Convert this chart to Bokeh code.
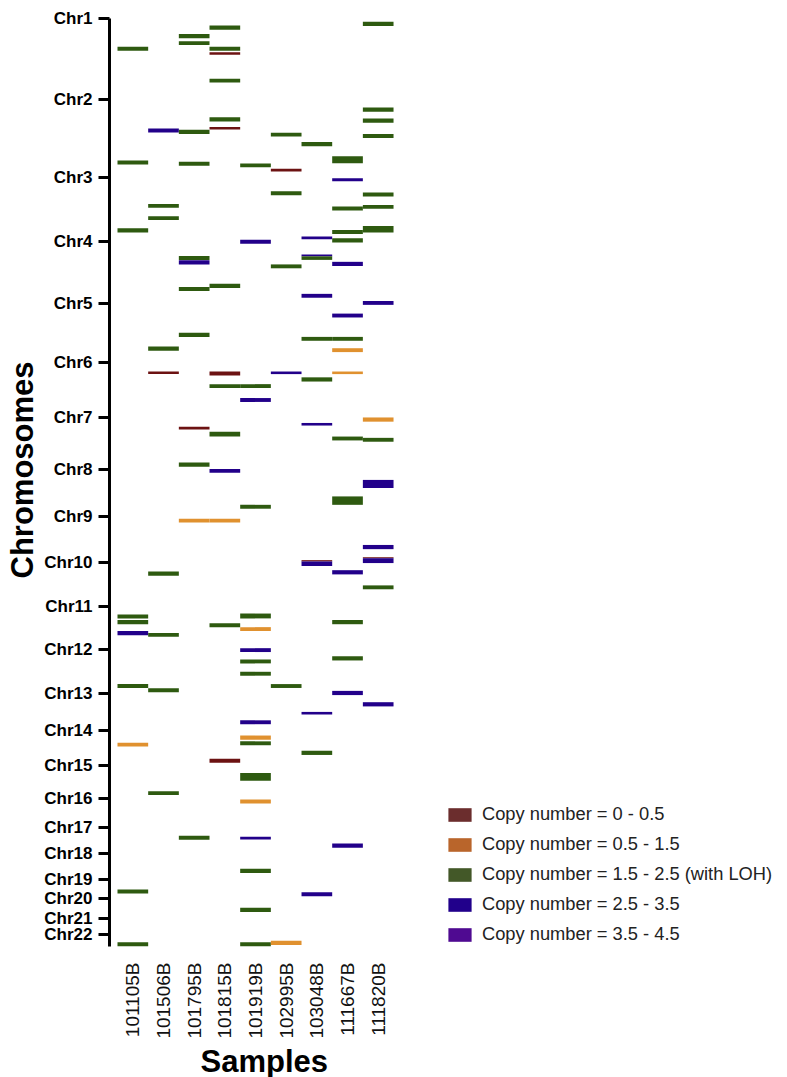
import math
import numpy as np
from bokeh.plotting import figure
from bokeh.models import ColumnDataSource, Range1d, FixedTicker, Legend, LegendItem, Title
from bokeh.embed import file_html
from bokeh.resources import INLINE

# ---------------- data ----------------
chrom_names = ["Chr%d" % i for i in range(1, 23)]
chrom_len_mb = [249.25, 243.20, 198.02, 191.15, 180.92, 171.12, 159.14, 146.36,
                141.21, 135.53, 135.01, 133.85, 115.17, 107.35, 102.53, 90.35,
                81.20, 78.08, 59.13, 63.03, 48.13, 51.30]
axis_end_mb = 2868

samples = ["101105B", "101506B", "101795B", "101815B", "101919B",
           "102995B", "103048B", "111667B", "111820B"]

cn_codes = ["d", "o", "g", "b", "p"]
cn_labels = ["Copy number = 0 - 0.5", "Copy number = 0.5 - 1.5",
             "Copy number = 1.5 - 2.5 (with LOH)", "Copy number = 2.5 - 3.5",
             "Copy number = 3.5 - 4.5"]

seg_sample = (["101105B"] * 10 + ["101506B"] * 9 + ["101795B"] * 12 + ["101815B"] * 14
              + ["101919B"] * 19 + ["102995B"] * 7 + ["103048B"] * 13 + ["111667B"] * 17
              + ["111820B"] * 16)
seg_start = [
    87, 439, 648, 1842, 1859, 1893, 2057, 2238, 2692, 2855,
    340, 573, 611, 1014, 1091, 1709, 1899, 2070, 2388,
    48, 70, 344, 443, 734, 747, 830, 971, 1262, 1372, 1546, 2526,
    22, 87, 104, 186, 305, 335, 820, 1091, 1130, 1277, 1392, 1546, 1869, 2288,
    448, 684, 1130, 1173, 1503, 1839, 1881, 1946, 1981, 2019, 2169, 2216, 2234, 2332, 2414, 2529, 2628, 2748, 2855,
    353, 464, 534, 760, 1091, 2057, 2850,
    382, 674, 729, 735, 851, 984, 1109, 1250, 1674, 1678, 2143, 2263, 2700,
    426, 494, 581, 654, 679, 752, 912, 984, 1019, 1091, 1292, 1477, 1705, 1859, 1971, 2078, 2550,
    10, 275, 309, 357, 538, 576, 641, 873, 1233, 1296, 1426, 1627, 1665, 1668, 1752, 2113,
]
seg_end = [
    100, 451, 661, 1854, 1872, 1906, 2069, 2250, 2704, 2868,
    352, 585, 623, 1027, 1099, 1722, 1911, 2082, 2400,
    61, 82, 357, 455, 746, 760, 842, 984, 1270, 1385, 1558, 2538,
    35, 100, 112, 198, 318, 343, 833, 1103, 1142, 1292, 1404, 1558, 1881, 2300,
    460, 696, 1142, 1185, 1515, 1854, 1893, 1958, 1993, 2031, 2181, 2229, 2246, 2356, 2426, 2537, 2641, 2761, 2868,
    365, 473, 546, 772, 1099, 2069, 2863,
    395, 682, 735, 746, 863, 996, 1122, 1258, 1678, 1692, 2151, 2276, 2713,
    447, 503, 593, 666, 692, 765, 924, 996, 1031, 1099, 1304, 1503, 1718, 1872, 1984, 2091, 2563,
    23, 288, 322, 369, 550, 588, 661, 885, 1246, 1308, 1451, 1640, 1668, 1683, 1764, 2126,
]
seg_cn = [
    "g", "g", "g", "g", "g", "b", "g", "o", "g", "g",
    "b", "g", "g", "g", "d", "g", "g", "g", "g",
    "g", "g", "g", "g", "g", "b", "g", "g", "d", "g", "o", "g",
    "g", "g", "d", "g", "g", "d", "g", "d", "g", "g", "b", "o", "g", "d",
    "g", "b", "g", "b", "g", "g", "o", "b", "g", "g", "b", "o", "g", "g", "o", "b", "g", "g", "g",
    "g", "d", "g", "g", "b", "g", "o",
    "g", "b", "b", "g", "b", "g", "g", "b", "d", "b", "b", "g", "b",
    "g", "b", "g", "g", "g", "b", "b", "g", "o", "o", "g", "g", "b", "g", "g", "b", "b",
    "g", "g", "g", "g", "g", "g", "g", "b", "o", "g", "b", "b", "d", "b", "g", "b",
]

# ---------------- style ----------------
bar_colors = {"d": "#6C1212", "o": "#E0912F", "g": "#2E5A10", "b": "#22008A", "p": "#4B0A8C"}
legend_colors = ["#6B2D2D", "#B9652B", "#435828", "#21008B", "#4F0A91"]
FONT = "Liberation Sans"
col_px = 30.67
frame_w = 668
frame_h = 928

chrom_starts = np.concatenate([[0.0], np.cumsum(chrom_len_mb)[:-1]])

x_idx = np.array([samples.index(s) for s in seg_sample], dtype=float)
src = ColumnDataSource(dict(
    left=x_idx, right=x_idx + 1.0,
    top=seg_start, bottom=seg_end,
    color=[bar_colors[c] for c in seg_cn],
))

x_start = -8.0 / col_px
p = figure(frame_width=frame_w, frame_height=frame_h,
           x_range=Range1d(x_start, x_start + frame_w / col_px),
           y_range=Range1d(axis_end_mb, 0),
           output_backend="svg", toolbar_location=None,
           min_border_left=103, min_border_top=18, min_border_right=0, min_border_bottom=0)
p.outline_line_color = None
p.xgrid.visible = False
p.ygrid.visible = False
p.background_fill_color = "white"

p.quad(left="left", right="right", top="top", bottom="bottom", source=src,
       fill_color="color", line_color=None)

# y axis (chromosomes)
yax = p.yaxis[0]
yax.ticker = FixedTicker(ticks=list(chrom_starts))
yax.major_label_overrides = {float(s): n for s, n in zip(chrom_starts, chrom_names)}
yax.minor_tick_line_color = None
yax.axis_line_width = 3
yax.axis_line_color = "black"
yax.major_tick_line_width = 3
yax.major_tick_line_color = "black"
yax.major_tick_out = 11
yax.major_tick_in = 0
yax.major_label_standoff = 6
yax.major_label_text_font = FONT
yax.major_label_text_font_style = "bold"
yax.major_label_text_font_size = "17px"
yax.major_label_text_color = "black"

p.add_layout(Title(text="Chromosomes", align="left", offset=368, standoff=4,
                   text_font=FONT, text_font_style="bold", text_font_size="31px",
                   text_color="black"), "left")

# x axis (samples)
xax = p.xaxis[0]
xax.ticker = FixedTicker(ticks=[i + 0.5 for i in range(len(samples))])
xax.major_label_overrides = {i + 0.5: s for i, s in enumerate(samples)}
xax.major_label_orientation = math.pi / 2
xax.axis_line_color = None
xax.major_tick_line_color = None
xax.minor_tick_line_color = None
xax.major_label_standoff = 10
xax.major_label_text_font = FONT
xax.major_label_text_font_size = "19px"
xax.major_label_text_color = "#111111"

p.add_layout(Title(text="Samples", align="left", offset=91, standoff=0,
                   text_font=FONT, text_font_style="bold", text_font_size="31px",
                   text_color="black"), "below")

# legend (swatches only; placeholder renderers hold no visible marks)
items = []
for lab, col in zip(cn_labels, legend_colors):
    r = p.quad(left=[np.nan], right=[np.nan], top=[np.nan], bottom=[np.nan],
               fill_color=col, line_color=None)
    items.append(LegendItem(label=lab, renderers=[r]))
legend = Legend(items=items, location=(336, 1), padding=0, margin=0, spacing=8,
                glyph_width=29, glyph_height=17, label_standoff=8,
                label_text_font=FONT, label_text_font_size="18.3px", label_text_color="#222222",
                border_line_color=None, background_fill_alpha=0)
p.add_layout(legend)

open("out.html", "w").write(file_html(p, INLINE))
